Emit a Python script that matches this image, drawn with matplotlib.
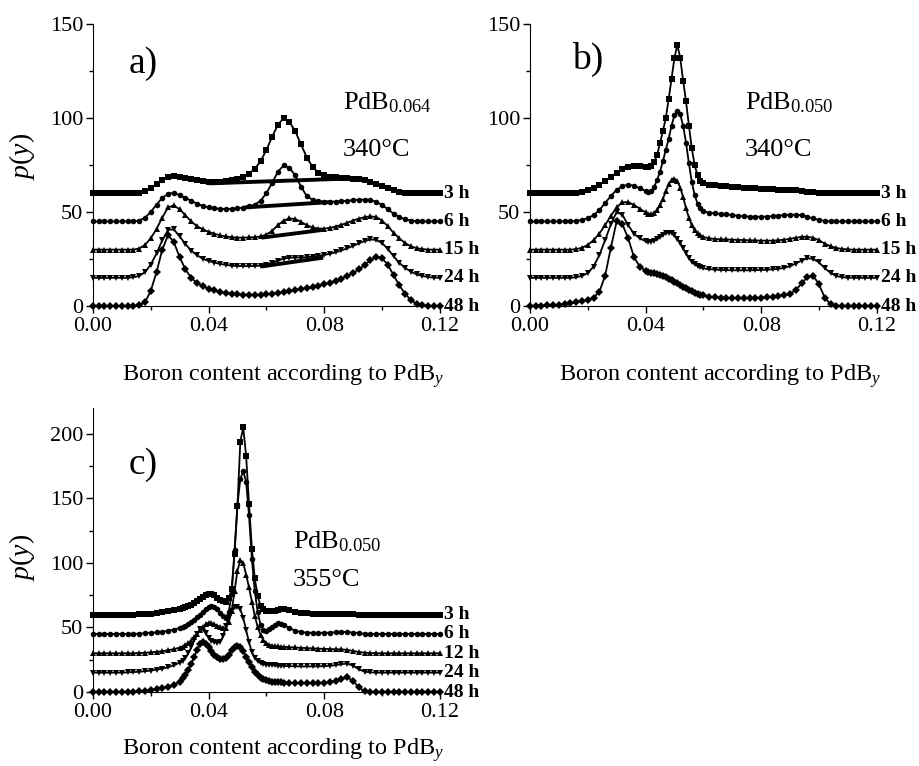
import numpy as np
import matplotlib
matplotlib.use("Agg")
import matplotlib.pyplot as plt
from matplotlib.ticker import MultipleLocator, FormatStrFormatter

plt.rcParams['font.family'] = 'Liberation Serif'
plt.rcParams['mathtext.fontset'] = 'custom'
plt.rcParams['mathtext.rm'] = 'Liberation Serif'
plt.rcParams['mathtext.it'] = 'Liberation Serif:italic'
plt.rcParams['mathtext.bf'] = 'Liberation Serif:bold'

# ---- sample grids (boron content y) ----
x_a = np.round(np.arange(0, 0.1201, 0.002), 3)
x_b = np.round(np.concatenate([np.arange(0, 0.0401, 0.002),
                               np.arange(0.041, 0.0601, 0.001),
                               np.arange(0.062, 0.1201, 0.002)]), 3)
x_c = np.round(np.concatenate([np.arange(0, 0.0301, 0.002),
                               np.arange(0.031, 0.0651, 0.001),
                               np.arange(0.066, 0.1201, 0.002)]), 3)

# ---- panel a) PdB0.064, 340 C (curves offset by 15) ----
a_3h = [60, 60, 60, 60, 60, 60, 60, 60, 60.4, 61.2,
        62.8, 65, 67, 68.4, 69, 68.8, 68.2, 67.4, 66.8, 66.3,
        66, 66, 66.1, 66.4, 66.8, 67.5, 68.8, 70.5, 73, 77,
        83, 90, 96.5, 100, 98, 93, 86, 79, 74, 71,
        69.5, 68.8, 68.4, 68.2, 68, 67.8, 67.5, 67, 66.2, 65,
        63.8, 62.6, 61.6, 60.9, 60.4, 60.2, 60, 60, 60, 60,
        60]
a_6h = [45, 45, 45, 45, 45, 45, 45, 45, 45.5, 47,
        50, 54, 57.5, 59.8, 60.2, 59, 57.5, 56, 54.5, 53.3,
        52.5, 52, 51.7, 51.6, 51.7, 52, 52.4, 53, 54, 56,
        60, 65.5, 71.5, 74.8, 73.5, 69.5, 63.5, 58.5, 56.5, 55.8,
        55.5, 55.5, 55.6, 55.8, 56, 56.3, 56.5, 56.6, 56.4, 55.5,
        53.8, 51.5, 49.2, 47.3, 46.2, 45.5, 45.2, 45, 45, 45,
        45]
a_15h = [30, 30, 30, 30, 30, 30, 30, 30, 30.6, 32.5,
         36, 41, 47, 52.5, 53.5, 51.5, 48.3, 45, 42.5, 40.8,
         39.5, 38.5, 37.6, 37, 36.6, 36.4, 36.4, 36.5, 36.6, 37,
         38, 40, 43, 45.5, 46.6, 46.3, 44.8, 43, 41.8, 41.2,
         41.2, 41.6, 42.3, 43.2, 44.3, 45.5, 46.5, 47.3, 47.7, 47.4,
         45.5, 42.5, 39, 36, 33.5, 31.8, 30.8, 30.3, 30, 30,
         30]
a_24h = [15, 15, 15, 15, 15, 15, 15, 15.3, 16, 18,
         22, 28, 35, 40.5, 40.8, 37, 33, 29.5, 27, 25.2,
         24, 23.1, 22.4, 21.9, 21.5, 21.3, 21.2, 21.2, 21.3, 21.5,
         22, 23, 24.2, 25.2, 25.7, 25.8, 25.8, 26, 26.3, 26.7,
         27.2, 27.8, 28.6, 29.6, 30.7, 32, 33.3, 34.6, 35.4, 35.2,
         33.5, 30.5, 26.5, 23, 20.3, 18.3, 16.8, 16, 15.4, 15.1,
         15]
a_48h = [0, 0, 0, 0, 0, 0, 0, 0, 0.3, 2,
         8, 18, 30, 37.8, 34, 26, 19.5, 15, 12.3, 10.5,
         9.2, 8.3, 7.5, 7, 6.6, 6.3, 6.1, 6, 6, 6.1,
         6.3, 6.6, 7, 7.4, 7.8, 8.3, 8.8, 9.4, 10, 10.7,
         11.5, 12.4, 13.4, 14.6, 16, 17.6, 19.5, 21.8, 24.3, 26,
         25.5, 22, 16.5, 11, 6.5, 3.2, 1.2, 0.3, 0, 0,
         0]
# fitted baselines under the middle peak (x0, x1, y0, y1)
a_base = [(0.041, 0.088, 65.3, 67.8),
          (0.053, 0.082, 52.5, 55.3),
          (0.059, 0.079, 36.5, 40.4),
          (0.059, 0.079, 21.2, 25.6)]

# ---- panel b) PdB0.050, 340 C ----
b_3h = [60, 60, 60, 60, 60, 60, 60, 60, 60.3, 60.8,
        61.6, 62.8, 64.5, 66.5, 68.8, 71, 72.8, 74, 74.5, 74.5,
        74.2,
        74, 74.3, 76.5, 80.5, 86.5, 93, 100, 110, 121, 132,
        139, 132, 120, 109, 96, 84, 75, 69.5, 66.5, 65.2,
        64.5, 64.2, 63.9, 63.6, 63.4, 63.2, 63, 62.8, 62.6, 62.4,
        62.3, 62.1, 62, 61.9, 61.8, 61.6, 61.3, 60.9, 60.5, 60.2,
        60, 60, 60, 60, 60, 60, 60, 60, 60, 60]
b_6h = [45, 45, 45, 45, 45, 45, 45, 45, 45.3, 45.8,
        46.8, 48.3, 51, 54.8, 58.5, 61.8, 63.8, 64.6, 64, 62.7,
        61.2,
        60.8, 61.2, 63.5, 67, 71.5, 77, 83, 89, 96, 101.5,
        104, 102, 96, 87, 76, 66, 59, 54.5, 52, 50.5,
        49.6, 49.3, 49.1, 48.8, 48.4, 48, 47.7, 47.6, 47.5, 47.5,
        47.6, 47.8, 48.1, 48.4, 48.6, 48.6, 48.3, 47.5, 46.6, 45.8,
        45.3, 45, 45, 45, 45, 45, 45, 45, 45, 45]
b_15h = [30, 30, 30, 30, 30, 30, 30, 30, 30.3, 31,
         32.5, 35, 38.5, 43, 48, 52.5, 55.2, 55.3, 53.8, 51.8,
         49.8,
         49, 48.9, 49.5, 51, 53.5, 57, 61, 64.8, 67.2, 67.8,
         66.5, 63, 58, 52, 47, 43, 40.3, 38.8, 37.6, 36.8,
         36, 35.7, 35.5, 35.4, 35.3, 35.2, 35.1, 35, 34.9, 34.8,
         34.8, 34.8, 35, 35.3, 35.8, 36.3, 36.8, 36.9, 36.3, 35,
         33.2, 31.8, 30.9, 30.4, 30.1, 30, 30, 30, 30, 30]
b_24h = [15, 15, 15, 15, 15, 15, 15, 15, 15.3, 16,
         17.5, 21, 27, 35, 43.5, 50, 48.5, 43, 38.5, 36,
         34.5,
         34.2, 34.3, 34.8, 35.6, 36.6, 37.8, 38.7, 39.1, 38.8, 37.6,
         35.8, 33.5, 30.8, 28, 25.6, 23.6, 22.2, 21.2, 20.5, 20,
         19.6, 19.4, 19.2, 19.1, 19, 19, 19, 19, 19.1, 19.2,
         19.3, 19.5, 19.8, 20.3, 21.2, 22.6, 24.2, 25.4, 25.1, 23.2,
         20.2, 17.6, 16, 15.3, 15.1, 15, 15, 15, 15, 15]
b_48h = [0, 0.1, 0.2, 0.3, 0.5, 0.7, 1, 1.4, 1.9, 2.5,
         3.3, 4.5, 7.5, 16, 31, 45, 43.5, 36, 26, 21,
         18.7,
         18.2, 17.8, 17.4, 17, 16.6, 16, 15.3, 14.5, 13.7, 12.9,
         12.1, 11.2, 10.3, 9.4, 8.6, 7.8, 7.1, 6.5, 6, 5.6,
         5, 4.6, 4.4, 4.2, 4.1, 4.1, 4.1, 4.2, 4.3, 4.5,
         4.7, 5, 5.3, 5.8, 6.5, 8.5, 12, 15.5, 16.2, 11.5,
         4.5, 1, 0.2, 0, 0, 0, 0, 0, 0, 0]

# ---- panel c) PdB0.050, 355 C ----
c_3h = [60, 60, 60, 60, 60, 60, 60, 60, 60.2, 60.5,
        60.8, 61.2, 61.8, 62.5, 63.3, 64.3,
        64.9, 65.6, 66.5, 67.6, 69, 70.6, 72.3, 73.8, 75, 75.8,
        75.8, 74.8, 73, 71.3, 70.2, 70, 72.5, 80, 107, 144,
        194, 205, 183, 146, 111, 88, 74, 67, 64, 63,
        62.5, 62.5, 63, 63.7, 64.2,
        64.3, 63.5, 62, 61.3, 61, 60.8, 60.6, 60.5, 60.4, 60.3,
        60.2, 60.2, 60.1, 60, 60, 60, 60, 60, 60, 60,
        60, 60, 60, 60, 60, 60, 60, 60]
c_6h = [45, 45, 45, 45, 45, 45, 45, 45, 45.2, 45.5,
        45.8, 46.2, 46.7, 47.4, 48.3, 49.6,
        50.4, 51.4, 52.6, 54, 55.8, 57.8, 60, 62.3, 64.3, 65.8,
        66.6, 66.2, 64.5, 61.5, 58.5, 57.3, 62, 76, 110, 145,
        165, 171, 163, 137, 103, 78, 62, 52, 48.2, 47.6,
        48.5, 50.3, 52.2, 53.2, 53,
        52.2, 49.5, 47.5, 46.5, 46, 45.8, 45.8, 45.8, 46, 46.3,
        46.6, 46.5, 46, 45.5, 45.2, 45, 45, 45, 45, 45,
        45, 45, 45, 45, 45, 45, 45, 45]
c_12h = [30, 30, 30, 30, 30, 30, 30, 30, 30.2, 30.4,
         30.7, 31.1, 31.6, 32.3, 33.2, 34.4,
         35.2, 36.3, 37.8, 39.8, 42.3, 45, 47.8, 50.4, 52.6, 53.6,
         53.3, 52.4, 51.3, 50.4, 49.7, 49.5, 54, 63, 78, 94,
         102, 100, 91, 81, 70, 59, 50.5, 44, 40, 37.8,
         36.6, 36, 35.6, 35.3, 35.1,
         35, 34.7, 34.5, 34.2, 34, 33.8, 33.6, 33.4, 33.3, 33.1,
         33, 32.6, 31.8, 31, 30.5, 30.2, 30, 30, 30, 30,
         30, 30, 30, 30, 30, 30, 30, 30]
c_24h = [15, 15, 15, 15, 15, 15, 15.2, 15.4, 15.7, 16.1,
         16.6, 17.3, 18.1, 19.2, 20.6, 22.8,
         24.3, 26.5, 30, 34.5, 40, 45, 48.5, 48.5, 45.5, 42,
         39.8, 38.6, 38.2, 39, 43, 51, 57.5, 63, 65.8, 66.2,
         64, 57.5, 48, 38.5, 31, 26.5, 23.8, 22.4, 21.6, 21.2,
         21, 20.8, 20.6, 20.4, 20.3,
         20.2, 20, 19.9, 19.8, 19.8, 19.8, 19.9, 20, 20.3, 20.8,
         21.6, 22, 20.5, 17.5, 15.8, 15.2, 15, 15, 15, 15,
         15, 15, 15, 15, 15, 15, 15, 15]
c_48h = [0, 0, 0, 0, 0, 0, 0.1, 0.3, 0.6, 1,
         1.5, 2.2, 3, 4.1, 5.6, 8,
         11, 13.5, 17, 21.5, 27, 32.5, 37, 38.5, 37, 34.5,
         31.5, 28.8, 26.8, 25.5, 25.2, 26.3, 29, 32.3, 34.8, 35.6,
         34.5, 31.5, 27.5, 23, 19, 15.5, 12.8, 11, 9.8, 9,
         8.5, 8.1, 7.8, 7.6, 7.4,
         7.3, 7.1, 7, 6.9, 6.9, 6.9, 7, 7.2, 7.6, 8.5,
         10, 11.4, 8.5, 3.5, 0.6, 0, 0, 0, 0, 0,
         0, 0, 0, 0, 0, 0, 0, 0]

labels_ab = ["3 h", "6 h", "15 h", "24 h", "48 h"]
labels_c = ["3 h", "6 h", "12 h", "24 h", "48 h"]
offsets = [60, 45, 30, 15, 0]
markers = ['s', 'o', '^', 'v', 'D']


def style(ax, ymax, pad):
    ax.set_xlim(0, 0.12)
    ax.set_ylim(0, ymax)
    ax.spines['top'].set_visible(False)
    ax.spines['right'].set_visible(False)
    ax.xaxis.set_major_locator(MultipleLocator(0.04))
    ax.xaxis.set_minor_locator(MultipleLocator(0.02))
    ax.yaxis.set_major_locator(MultipleLocator(50))
    ax.yaxis.set_minor_locator(MultipleLocator(25))
    ax.xaxis.set_major_formatter(FormatStrFormatter('%.2f'))
    ax.tick_params(which='major', direction='out', length=5, width=1,
                   labelsize=16, pad=2)
    ax.tick_params(axis='x', which='major', pad=3)
    ax.tick_params(which='minor', direction='out', length=3, width=1)
    ax.set_xlabel('Boron content according to PdB$_{\\mathit{y}}$',
                  fontsize=17.5, labelpad=pad)
    ax.xaxis.label.set_x(0.548)


def draw(ax, x, series, labels):
    for y, mk, lab, off in zip(series, markers, labels, offsets):
        ax.plot(x, y, color='black', lw=1.3, marker=mk, ms=4.0,
                markeredgewidth=0, clip_on=False)
        ax.text(0.1213, off, lab, fontsize=14, fontweight='bold',
                va='center', ha='left', clip_on=False)


fig = plt.figure(figsize=(9.2, 7.66), dpi=100)
ax_a = fig.add_axes([0.101, 0.6005, 0.377, 0.368])
ax_b = fig.add_axes([0.576, 0.6005, 0.377, 0.368])
ax_c = fig.add_axes([0.101, 0.0966, 0.377, 0.3708])

# a)
draw(ax_a, x_a, [a_3h, a_6h, a_15h, a_24h, a_48h], labels_ab)
for x0, x1, y0, y1 in a_base:
    ax_a.plot([x0, x1], [y0, y1], color='black', lw=2.8)
style(ax_a, 150, 19)
ax_a.set_ylabel('$p$($y$)', fontsize=20)
ax_a.yaxis.set_label_coords(-0.161, 0.53)
ax_a.text(0.0125, 129, 'a)', fontsize=27, va='center')
ax_a.text(0.0865, 108, 'PdB$_{0.064}$', fontsize=19, va='center')
ax_a.text(0.0865, 83, '340°C', fontsize=19, va='center')

# b)
draw(ax_b, x_b, [b_3h, b_6h, b_15h, b_24h, b_48h], labels_ab)
style(ax_b, 150, 19)
ax_b.text(0.0145, 131, 'b)', fontsize=27, va='center')
ax_b.text(0.0743, 108, 'PdB$_{0.050}$', fontsize=19, va='center')
ax_b.text(0.0743, 83, '340°C', fontsize=19, va='center')

# c)
draw(ax_c, x_c, [c_3h, c_6h, c_12h, c_24h, c_48h], labels_c)
style(ax_c, 220, 10)
ax_c.set_ylabel('$p$($y$)', fontsize=20)
ax_c.yaxis.set_label_coords(-0.161, 0.475)
ax_c.text(0.0125, 176, 'c)', fontsize=27, va='center')
ax_c.text(0.0691, 116.5, 'PdB$_{0.050}$', fontsize=19, va='center')
ax_c.text(0.0691, 87, '355°C', fontsize=19, va='center')

fig.savefig('out.png', dpi=100)
